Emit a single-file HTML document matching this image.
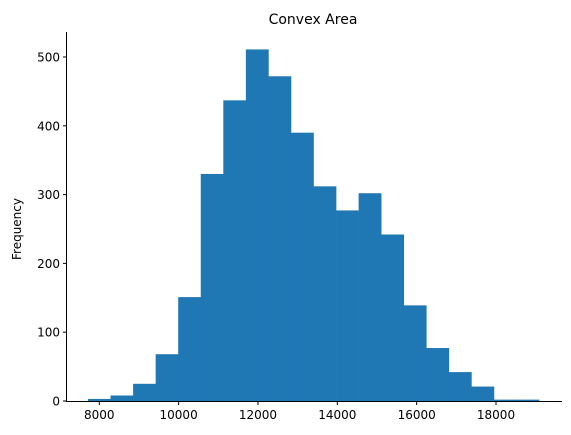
<!DOCTYPE html>
<html><head><meta charset="utf-8"><style>
body{margin:0;background:#fff}
svg{display:block;font-family:"DejaVu Sans","Liberation Sans",sans-serif}
</style></head><body>
<svg id="chart" width="571" height="435">
<text x="313" y="24" font-size="14" text-anchor="middle">Convex Area</text>
<text transform="translate(21,229) rotate(-90)" font-size="12" text-anchor="middle">Frequency</text>
<g id="bars"></g><g id="axes"></g>
</svg>
<script>
const binStart = 7715;
const binWidth = 568.5;
const counts = [3, 8, 25, 68, 151, 330, 437, 511, 472, 390, 312, 277, 302, 242, 139, 77, 42, 21, 2, 2];
const xTicks = [8000, 10000, 12000, 14000, 16000, 18000];
const yTicks = [0, 100, 200, 300, 400, 500];
const NS = 'http://www.w3.org/2000/svg';
const x = v => 99.3 + (v - 8000) * 0.03967;
const y = v => 401 - v * 0.688;
const bars = document.getElementById('bars'), axes = document.getElementById('axes');
function mk(tag, attrs, parent){const e=document.createElementNS(NS,tag);for(const k in attrs)e.setAttribute(k,attrs[k]);parent.appendChild(e);return e;}
counts.forEach((c,i)=>{
  const x0=x(binStart+i*binWidth), x1=x(binStart+(i+1)*binWidth);
  const r=mk('rect',{x:x0,y:y(c),width:x1-x0+0.3,height:401-y(c),fill:'#1f77b4'},bars);
  
  
});
const l1=mk('line',{x1:66.5,y1:32,x2:66.5,y2:401.5,stroke:'#000','stroke-width':1},axes);


const l2=mk('line',{x1:66,y1:401.5,x2:562,y2:401.5,stroke:'#000','stroke-width':1},axes);


xTicks.forEach(t=>{
  mk('line',{x1:x(t),y1:401.5,x2:x(t),y2:405,stroke:'#000'},axes);
  const tx=mk('text',{x:x(t),y:419,'font-size':12,'text-anchor':'middle'},axes);
  tx.textContent=t;
  
  
});
yTicks.forEach(t=>{
  mk('line',{x1:63,y1:y(t),x2:66.5,y2:y(t),stroke:'#000'},axes);
  const tx=mk('text',{x:60,y:y(t)+4.5,'font-size':12,'text-anchor':'end'},axes);
  tx.textContent=t;
  
  
});
</script>
</body></html>
